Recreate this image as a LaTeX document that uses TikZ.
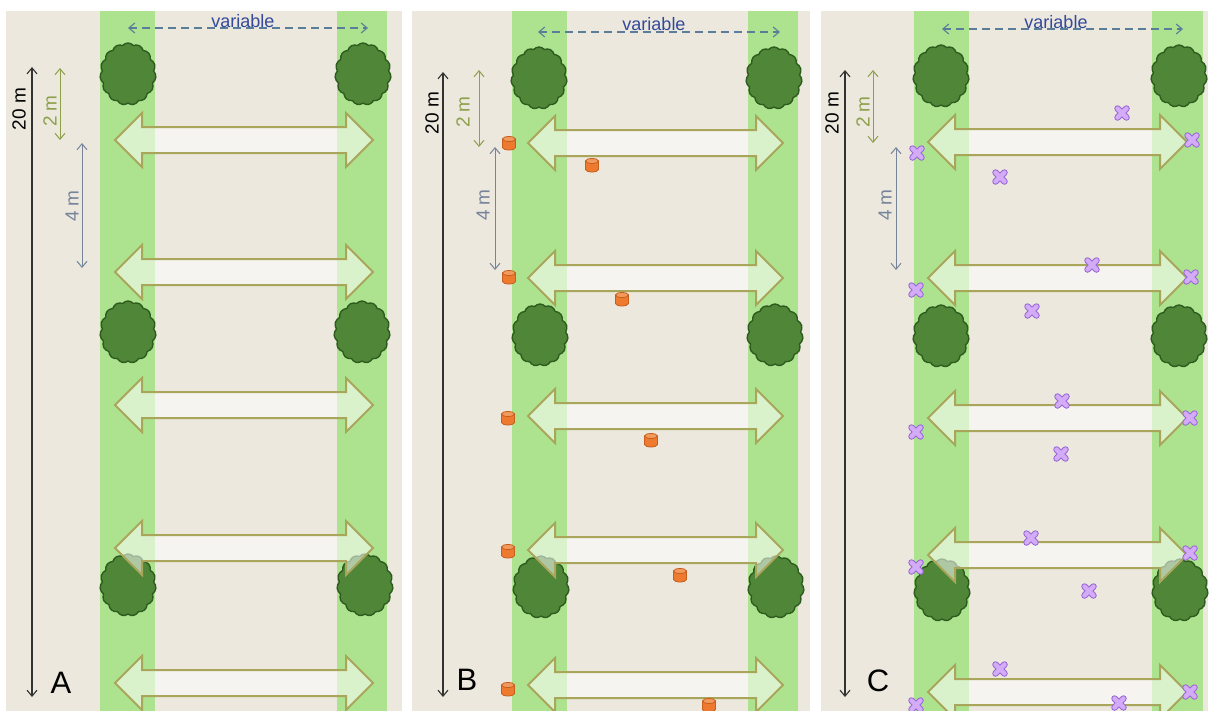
\documentclass[tikz,border=0pt]{standalone}
\usepackage{fontspec}
\setmainfont{Liberation Sans}
\usetikzlibrary{shapes.symbols,arrows.meta}

\definecolor{sand}{HTML}{ECE8DE}
\definecolor{verge}{HTML}{ADE38F}
\definecolor{leaf}{HTML}{4F8637}
\definecolor{leafedge}{HTML}{2E5C1F}
\definecolor{olive}{HTML}{A9A65C}
\definecolor{spanblue}{HTML}{5A7D99}
\definecolor{textblue}{HTML}{34499A}
\definecolor{twom}{HTML}{8DA04A}
\definecolor{fourm}{HTML}{76849A}
\definecolor{canfill}{HTML}{EE7A30}
\definecolor{canedge}{HTML}{C65E1C}
\definecolor{cantop}{HTML}{F29A5E}
\definecolor{lilac}{HTML}{D3ABF7}
\definecolor{lilacedge}{HTML}{9A6AD4}

\tikzset{
  tree/.style={cloud, cloud puffs=15, cloud puff arc=100, aspect=0.9,
    minimum width=56pt, minimum height=62pt, inner sep=0pt,
    fill=leaf, draw=leafedge, line width=1.4pt},
  crossing/.style={draw=olive, line width=2pt, fill=white, fill opacity=0.55,
    line join=miter},
  barb/.style={arrows={Straight Barb[length=6pt,width=10pt]-Straight Barb[length=6pt,width=10pt]}},
  span/.style={barb, draw=spanblue, line width=1.1pt, dash pattern=on 8pt off 5pt},
  total/.style={barb, draw=black!80, line width=1.1pt},
  gap/.style={barb, draw=twom, line width=1pt},
  step4/.style={barb, draw=fourm, line width=1pt},
  lab/.style={font=\fontsize{19}{22}\selectfont, inner sep=0pt},
  toplab/.style={font=\fontsize{18}{21}\selectfont, inner sep=0pt},
  letter/.style={font=\fontsize{31}{36}\selectfont, inner sep=0pt},
}

% double-headed crossing arrow: left tip x, right tip x, centre y
\newcommand\crossarrow[3]{%
  \path[crossing] (#1,#3) -- ({#1+27},{#3-27}) -- ({#1+27},{#3-13})
    -- ({#2-27},{#3-13}) -- ({#2-27},{#3-27}) -- (#2,#3)
    -- ({#2-27},{#3+27}) -- ({#2-27},{#3+13}) -- ({#1+27},{#3+13})
    -- ({#1+27},{#3+27}) -- cycle;}

% small orange canister trap
\newcommand\canister[2]{%
  \filldraw[fill=canfill, draw=canedge, line width=0.8pt]
    ({#1-6.5},{#2-4}) -- ({#1-6.5},{#2+4.5})
    arc[start angle=180, end angle=0, x radius=6.5, y radius=2.5]
    -- ({#1+6.5},{#2-4}) -- cycle;
  \filldraw[fill=cantop, draw=canedge, line width=0.8pt]
    (#1,{#2-4}) ellipse[x radius=6.5, y radius=2.5];}

% lilac cross marker
\newcommand\lure[2]{%
  \draw[lilacedge, line width=6.5pt, line cap=round]
    ({#1-4.5},{#2-4.5}) -- ({#1+4.5},{#2+4.5})
    ({#1-4.5},{#2+4.5}) -- ({#1+4.5},{#2-4.5});
  \draw[lilac, line width=4.4pt, line cap=round]
    ({#1-4.5},{#2-4.5}) -- ({#1+4.5},{#2+4.5})
    ({#1-4.5},{#2+4.5}) -- ({#1+4.5},{#2-4.5});}

\begin{document}
\begin{tikzpicture}[x=1pt, y=-1pt]
\useasboundingbox (0,0) rectangle (1211,710);
\begin{scope}
\clip (0,0) rectangle (1211,710);
\fill[white] (0,0) rectangle (1211,710);

% ---------- panels and green verges ----------
\fill[sand] (6,11) rectangle (402,712);
\fill[sand] (412,11) rectangle (810,712);
\fill[sand] (821,11) rectangle (1208,712);
\fill[verge] (100,11) rectangle (155,712);
\fill[verge] (337,11) rectangle (387,712);
\fill[verge] (512,11) rectangle (567,712);
\fill[verge] (748,11) rectangle (798,712);
\fill[verge] (914,11) rectangle (969,712);
\fill[verge] (1152,11) rectangle (1203,712);

% ---------- trees ----------
\node[tree] (tA1) at (128,74) {};
\node[tree] (tA2) at (363,74) {};
\node[tree] (tA3) at (128,332) {};
\node[tree] (tA4) at (362,332) {};
\node[tree] (tA5) at (128,585) {};
\node[tree] (tA6) at (365,585) {};
\node[tree] (tB1) at (539,78) {};
\node[tree] (tB2) at (774,78) {};
\node[tree] (tB3) at (540,335) {};
\node[tree] (tB4) at (775,335) {};
\node[tree] (tB5) at (541,587) {};
\node[tree] (tB6) at (776,587) {};
\node[tree] (tC1) at (941,76) {};
\node[tree] (tC2) at (1179,76) {};
\node[tree] (tC3) at (941,336) {};
\node[tree] (tC4) at (1179,336) {};
\node[tree] (tC5) at (942,590) {};
\node[tree] (tC6) at (1180,590) {};

% ---------- crossing arrows ----------
\foreach \y in {140,272,405,548,683} {\crossarrow{115}{373}{\y}}
\foreach \y in {143,278,416,550,685} {\crossarrow{528}{783}{\y}}
\foreach \y in {142,278,418,555,692} {\crossarrow{928}{1187}{\y}}

% ---------- canister traps (B) ----------
\foreach \px/\py in {509/143,592/165,509/277,622/299,508/418,651/440,
                     508/551,680/575,508/689,709/705}
  {\canister{\px}{\py}}

% ---------- cross markers (C) ----------
\foreach \px/\py in {1122/113,1192/140,917/153,1000/177,1092/265,1191/277,
                     916/290,1032/311,1062/401,1190/418,916/432,1061/454,
                     1031/538,1190/553,916/567,1089/591,1000/669,1190/692,
                     916/705,1119/703}
  {\lure{\px}{\py}}

% ---------- width arrows ----------
\coordinate (vA1) at (128,28);  \coordinate (vA2) at (368,28);
\coordinate (vB1) at (538,32);  \coordinate (vB2) at (780,32);
\coordinate (vC1) at (942,29);  \coordinate (vC2) at (1183,29);
\draw[span] (vA1) -- (vA2);
\draw[span] (vB1) -- (vB2);
\draw[span] (vC1) -- (vC2);
\node[toplab, text=textblue, anchor=base] (varA) at (243,27) {variable};
\node[toplab, text=textblue, anchor=base] (varB) at (654,30) {variable};
\node[toplab, text=textblue, anchor=base] (varC) at (1056,28) {variable};

% ---------- length scales ----------
% panel A
\coordinate (A20t) at (32,67);  \coordinate (A20b) at (32,697);
\coordinate (A2t) at (60,68);   \coordinate (A2b) at (60,140);
\coordinate (A4t) at (82,143);  \coordinate (A4b) at (82,268);
\draw[total] (A20t) -- (A20b);
\draw[gap] (A2t) -- (A2b);
\draw[step4] (A4t) -- (A4b);
\node[lab, rotate=90] (lA20) at (19,109) {20 m};
\node[lab, rotate=90, text=twom] (lA2) at (50,111) {2 m};
\node[lab, rotate=90, text=fourm] (lA4) at (72,206) {4 m};
% panel B
\coordinate (B20t) at (443,72); \coordinate (B20b) at (443,697);
\coordinate (B2t) at (479,70);  \coordinate (B2b) at (479,147);
\coordinate (B4t) at (495,147); \coordinate (B4b) at (495,270);
\draw[total] (B20t) -- (B20b);
\draw[gap] (B2t) -- (B2b);
\draw[step4] (B4t) -- (B4b);
\node[lab, rotate=90] (lB20) at (432,113) {20 m};
\node[lab, rotate=90, text=twom] (lB2) at (463,112) {2 m};
\node[lab, rotate=90, text=fourm] (lB4) at (483,205) {4 m};
% panel C
\coordinate (C20t) at (845,70); \coordinate (C20b) at (845,697);
\coordinate (C2t) at (873,70);  \coordinate (C2b) at (873,143);
\coordinate (C4t) at (896,147); \coordinate (C4b) at (896,270);
\draw[total] (C20t) -- (C20b);
\draw[gap] (C2t) -- (C2b);
\draw[step4] (C4t) -- (C4b);
\node[lab, rotate=90] (lC20) at (832,113) {20 m};
\node[lab, rotate=90, text=twom] (lC2) at (863,112) {2 m};
\node[lab, rotate=90, text=fourm] (lC4) at (885,205) {4 m};

% ---------- panel letters ----------
\node[letter] (pA) at (61,683) {A};
\node[letter] (pB) at (467,680) {B};
\node[letter] (pC) at (878,681) {C};
\end{scope}
\end{tikzpicture}
\end{document}
